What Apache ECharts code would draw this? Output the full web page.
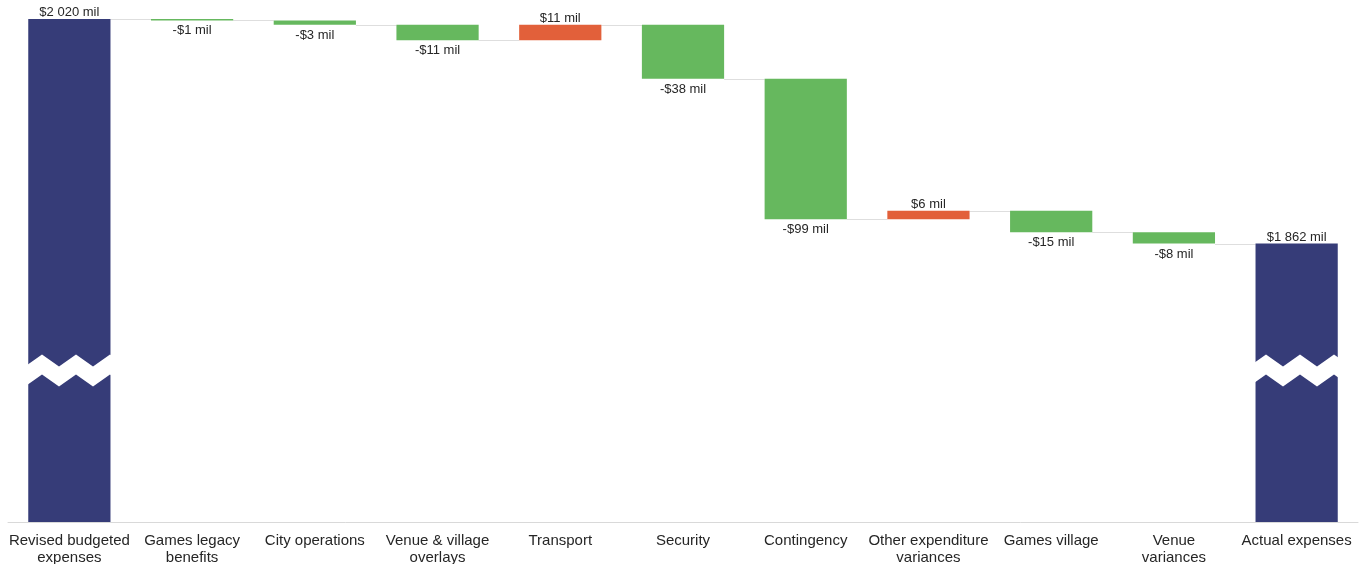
<!DOCTYPE html>
<html>
<head>
<meta charset="utf-8">
<script src="https://cdn.jsdelivr.net/npm/echarts@6.0.0/dist/echarts.min.js"></script>
<style>
  html, body { margin: 0; padding: 0; background: #ffffff; }
  #chart { width: 1367px; height: 564px; }
</style>
</head>
<body>
<div id="chart"></div>
<script>
// Budget to actual expenses bridge, $ millions
const categories = [
  'Revised budgeted\nexpenses', 'Games legacy\nbenefits', 'City operations',
  'Venue & village\noverlays', 'Transport', 'Security', 'Contingency',
  'Other expenditure\nvariances', 'Games village', 'Venue\nvariances', 'Actual expenses'
];
// kind: 'total' bars start at zero, 'delta' bars float on the running total
const kinds = ['total', 'delta', 'delta', 'delta', 'delta', 'delta', 'delta', 'delta', 'delta', 'delta', 'total'];
const values = [2020, -1, -3, -11, 11, -38, -99, 6, -15, -8, 1862];

// y axis break that hides the empty middle of the two total bars
const axisBreak = { start: 100, end: 1780, gap: 14 };

const COLORS = { total: '#363c78', up: '#e2603a', down: '#66b85e' };
const BAR_RATIO = 0.67;
const FONT = 'Arial, "Liberation Sans", sans-serif';

function money(v) {
  const s = String(Math.abs(v)).replace(/\B(?=(\d{3})+(?!\d))/g, ' ');
  return (v < 0 ? '-$' : '$') + s + ' mil';
}

// Build stacked waterfall pieces: invisible base + visible piece
const baseData = [];
const pieceData = [];
const levels = [];
let running = 0;
values.forEach(function (v, i) {
  if (kinds[i] === 'total') {
    running = v;
    baseData.push(0);
    pieceData.push({
      value: v, raw: v,
      itemStyle: { color: COLORS.total },
      label: { position: 'top', distance: 0 }
    });
  } else {
    const before = running;
    running = before + v;
    baseData.push(Math.min(before, running));
    pieceData.push({
      value: Math.abs(v), raw: v,
      itemStyle: { color: v < 0 ? COLORS.down : COLORS.up },
      label: v < 0 ? { position: 'bottom', distance: 4 } : { position: 'top', distance: 0 }
    });
  }
  levels.push(running);
});

// Connector lines between consecutive bars at the running total
const connectorData = levels.slice(0, -1).map(function (lv, i) { return [i, lv]; });

const chart = echarts.init(document.getElementById('chart'), null, { renderer: 'canvas' });
chart.setOption({
  animation: false,
  backgroundColor: '#ffffff',
  grid: { left: 8, right: 9, top: 19, bottom: 42, containLabel: false, outerBoundsMode: 'none' },
  xAxis: {
    type: 'category',
    data: categories,
    axisLine: { show: true, lineStyle: { color: '#d9d9d9', width: 1 } },
    axisTick: { show: false },
    axisLabel: {
      interval: 0, color: '#262626', fontFamily: FONT, fontSize: 15,
      lineHeight: 17, margin: 10
    },
    splitLine: { show: false }
  },
  yAxis: {
    type: 'value',
    min: 0,
    max: 2020,
    breaks: [axisBreak],
    breakArea: {
      show: true,
      itemStyle: { color: '#ffffff', borderWidth: 0, opacity: 1 },
      zigzagAmplitude: 6,
      zigzagMinSpan: 17,
      zigzagMaxSpan: 17,
      zigzagZ: 100,
      expandOnClick: false
    },
    axisLine: { show: false },
    axisTick: { show: false },
    axisLabel: { show: false },
    splitLine: { show: false }
  },
  series: [
    {
      type: 'custom',
      z: 1,
      silent: true,
      data: connectorData,
      renderItem: function (params, api) {
        const p = api.coord([api.value(0), api.value(1)]);
        const band = api.size([1, 0])[0];
        const half = band * BAR_RATIO / 2;
        const y = Math.round(p[1]) + 0.5;
        return {
          type: 'line',
          shape: { x1: p[0] + half, y1: y, x2: p[0] + band - half, y2: y },
          style: { stroke: '#dedede', lineWidth: 1 }
        };
      }
    },
    {
      type: 'bar',
      stack: 'w',
      z: 2,
      barWidth: (BAR_RATIO * 100) + '%',
      silent: true,
      itemStyle: { color: 'rgba(0,0,0,0)' },
      data: baseData
    },
    {
      type: 'bar',
      stack: 'w',
      z: 2,
      barWidth: (BAR_RATIO * 100) + '%',
      data: pieceData,
      label: {
        show: true,
        color: '#262626',
        fontFamily: FONT,
        fontSize: 13,
        formatter: function (p) { return money(p.data.raw); }
      }
    }
  ]
});
</script>
</body>
</html>
